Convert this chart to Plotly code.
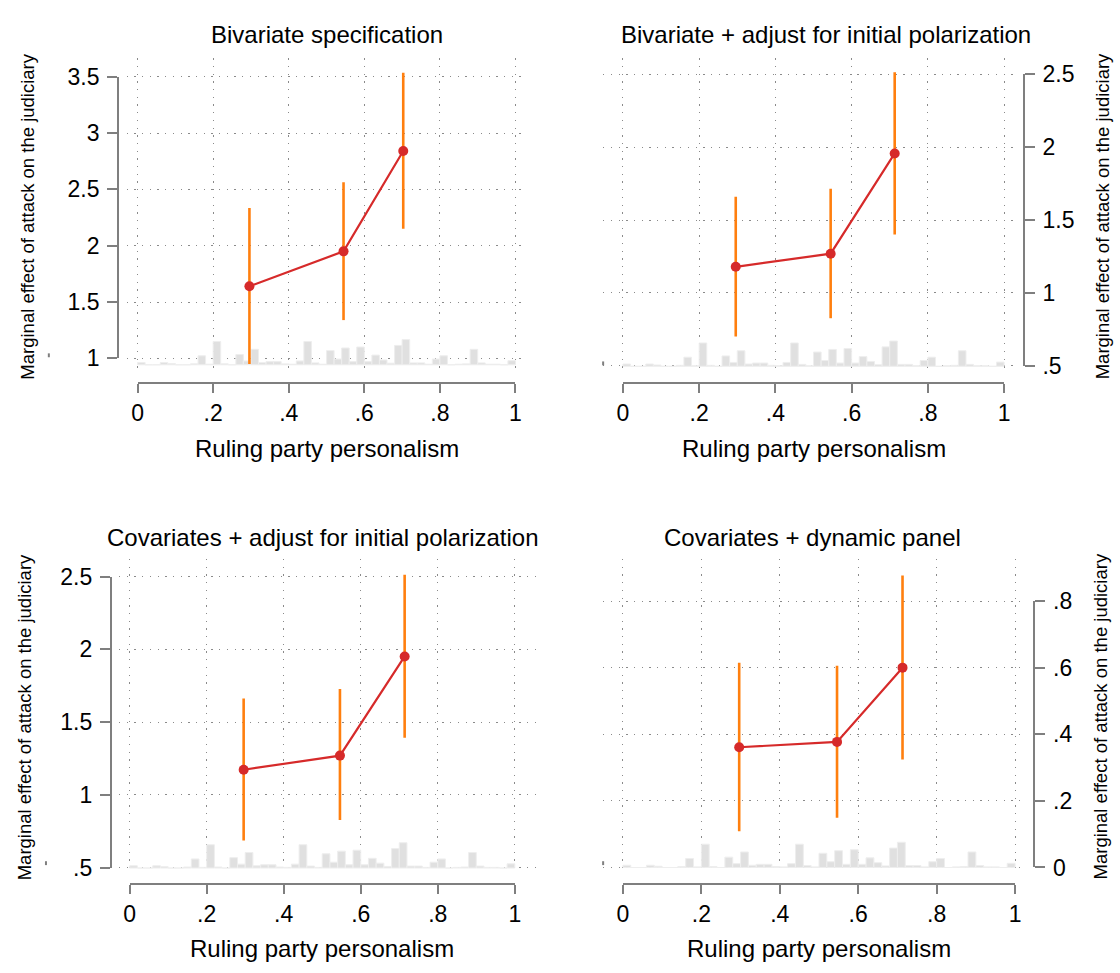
import plotly.graph_objects as go

W, H = 1120, 973
FONT = "Arial, 'Liberation Sans', sans-serif"

# ---------------- data ----------------
titles = ["Bivariate specification",
          "Bivariate + adjust for initial polarization",
          "Covariates + adjust for initial polarization",
          "Covariates + dynamic panel"]
x_title = "Ruling party personalism"
y_title = "Marginal effect of attack on the judiciary"

p1_x = [0.296, 0.545, 0.703]
p1_est = [1.64, 1.95, 2.84]
p1_lo = [0.95, 1.34, 2.15]
p1_hi = [2.335, 2.563, 3.535]

p2_x = [0.296, 0.545, 0.713]
p2_est = [1.179, 1.269, 1.957]
p2_lo = [0.700, 0.826, 1.400]
p2_hi = [1.659, 1.714, 2.514]

p3_x = [0.296, 0.546, 0.714]
p3_est = [1.173, 1.270, 1.951]
p3_lo = [0.687, 0.827, 1.393]
p3_hi = [1.663, 1.727, 2.512]

p4_x = [0.2965, 0.546, 0.713]
p4_est = [0.361, 0.377, 0.600]
p4_lo = [0.109, 0.149, 0.324]
p4_hi = [0.615, 0.606, 0.877]

x_ticks = [0, 0.2, 0.4, 0.6, 0.8, 1]
x_ticktext = ["0", ".2", ".4", ".6", ".8", "1"]

y_ticks_1 = [1, 1.5, 2, 2.5, 3, 3.5]
y_ticktext_1 = ["1", "1.5", "2", "2.5", "3", "3.5"]
y_ticks_23 = [0.5, 1, 1.5, 2, 2.5]
y_ticktext_23 = [".5", "1", "1.5", "2", "2.5"]
y_ticks_4 = [0, 0.2, 0.4, 0.6, 0.8]
y_ticktext_4 = ["0", ".2", ".4", ".6", ".8"]

# histogram of personalism (percent of observations per 0.02-wide bin)
hist_bin_width = 0.02
hist_pct = [0.7, 0.0, 0.0, 0.7, 0.4, 0.0, 0.0, 0.3, 2.8, 0.2,
            7.2, 0.3, 0.0, 3.2, 1.2, 4.8, 0.7, 1.0, 1.0, 0.3,
            0.2, 1.2, 7.2, 0.6, 0.2, 4.4, 1.8, 5.2, 1.0, 5.5,
            1.0, 3.0, 1.5, 0.5, 6.0, 7.8, 0.6, 0.6, 0.2, 1.8,
            2.8, 0.0, 0.2, 0.3, 4.8, 0.6, 0.2, 0.2, 0.0, 1.3]
hist_x = [hist_bin_width * (i + 0.5) for i in range(len(hist_pct))]

series = [(p1_x, p1_est, p1_lo, p1_hi, y_ticks_1, y_ticktext_1),
          (p2_x, p2_est, p2_lo, p2_hi, y_ticks_23, y_ticktext_23),
          (p3_x, p3_est, p3_lo, p3_hi, y_ticks_23, y_ticktext_23),
          (p4_x, p4_est, p4_lo, p4_hi, y_ticks_4, y_ticktext_4)]

# ---------------- layout geometry (pixels) ----------------
TOP = dict(plot_y=(46.5, 371), xaxis_y=380, xtitle_y=447, title_y=22)
BOT = dict(plot_y=(561, 885.5), xaxis_y=894.5, xtitle_y=961, title_y=539)
panels = [
    dict(TOP, plot_x=(122, 527), x0=133, x1=515, ypix=(354.9, 65.4),
         yaxis_x=113.3, yside="left", ytitle_x=21.7, title_x=324, base=361.5,
         dash=(43.3, 351.7)),
    dict(TOP, plot_x=(603.6, 1024), x0=623.6, x1=1008.9, ypix=(362.4, 63),
         yaxis_x=1028.9, yside="right", ytitle_x=1108, title_x=829, base=363,
         dash=(603.6, 360)),
    dict(BOT, plot_x=(114.3, 535.7), x0=125, x1=514.3, ypix=(878.2, 579),
         yaxis_x=106, yside="left", ytitle_x=19.6, title_x=320, base=878.5,
         dash=(40.4, 873.5)),
    dict(BOT, plot_x=(603.6, 1031.4), x0=623.6, x1=1020, ypix=(877.9, 604.2),
         yaxis_x=1039.6, yside="right", ytitle_x=1106.4, title_x=815, base=878,
         dash=(603.6, 873.5)),
]
HIST_PX_PER_UNIT = 3.33

RED = "#d62a2a"
ORANGE = "#ff7f0e"
AXIS = "#7f7f7f"
GRID = "#8a8a8a"
TICK_FONT = 23
TITLE_FONT = 24
YTITLE_FONT = 18.5


def fx(px):
    return px / W


def fy(py):
    return 1 - py / H


def sx(n):
    return "x" if n == 1 else f"x{n}"


def sy(n):
    return "y" if n == 1 else f"y{n}"


def kx(n):
    return "xaxis" if n == 1 else f"xaxis{n}"


def ky(n):
    return "yaxis" if n == 1 else f"yaxis{n}"


fig = go.Figure()
layout = dict(width=W, height=H, margin=dict(l=0, r=0, t=0, b=0),
              paper_bgcolor="white", plot_bgcolor="rgba(0,0,0,0)", showlegend=False,
              font=dict(family=FONT, color="black"))
annotations = []
shapes = []

for k, (P, S) in enumerate(zip(panels, series)):
    xs, est, lo, hi, yt, ytt = S
    xm, xd = 2 * k + 1, 2 * k + 2
    yh, ye, yd = 3 * k + 1, 3 * k + 2, 3 * k + 3

    span = P["x1"] - P["x0"]
    xr = [(P["plot_x"][0] - P["x0"]) / span, (P["plot_x"][1] - P["x0"]) / span]
    (py_lo, py_hi) = P["ypix"]
    v_lo, v_hi = yt[0], yt[-1]
    upp = (v_hi - v_lo) / (py_lo - py_hi)
    yr = [v_lo - (P["plot_y"][1] - py_lo) * upp, v_hi + (py_hi - P["plot_y"][0]) * upp]
    hr = [-(P["plot_y"][1] - P["base"]) / HIST_PX_PER_UNIT,
          (P["base"] - P["plot_y"][0]) / HIST_PX_PER_UNIT]

    xdom = [fx(P["plot_x"][0]), fx(P["plot_x"][1])]
    ydom = [fy(P["plot_y"][1]), fy(P["plot_y"][0])]
    grid = dict(gridcolor=GRID, gridwidth=1.3, griddash="1.3px,6.4px")

    layout[kx(xm)] = dict(domain=xdom, range=xr, anchor=sy(yh), showline=False,
                          showticklabels=False, ticks="", zeroline=False,
                          showgrid=True, tickvals=x_ticks, **grid)
    layout[ky(yh)] = dict(domain=ydom, range=hr, anchor=sx(xm), showline=False,
                          showticklabels=False, ticks="", zeroline=False, showgrid=False)
    layout[ky(ye)] = dict(domain=ydom, range=yr, overlaying=sy(yh), anchor=sx(xm),
                          showline=False, showticklabels=False, ticks="",
                          zeroline=False, showgrid=True, tickvals=yt, **grid)
    # detached Stata-style display axes
    layout[kx(xd)] = dict(domain=[fx(P["x0"]), fx(P["x1"])], range=[0, 1],
                          anchor="free", position=fy(P["xaxis_y"]),
                          showline=True, linecolor=AXIS, linewidth=2,
                          ticks="outside", ticklen=9, tickwidth=2, tickcolor=AXIS,
                          tickvals=x_ticks, ticktext=x_ticktext,
                          tickfont=dict(size=TICK_FONT, color="black", family=FONT),
                          ticklabelstandoff=1, showgrid=False, zeroline=False)
    layout[ky(yd)] = dict(domain=[fy(py_lo), fy(py_hi)], range=[v_lo, v_hi],
                          anchor="free", position=fx(P["yaxis_x"]), side=P["yside"],
                          showline=True, linecolor=AXIS, linewidth=2,
                          ticks="outside", ticklen=10, tickwidth=2, tickcolor=AXIS,
                          tickvals=yt, ticktext=ytt,
                          tickfont=dict(size=TICK_FONT, color="black", family=FONT),
                          ticklabelstandoff=3, showgrid=False, zeroline=False)

    fig.add_trace(go.Bar(x=hist_x, y=hist_pct, width=hist_bin_width,
                         marker=dict(color="#e0e0e0", line=dict(color="#eeeeee", width=1)),
                         xaxis=sx(xm), yaxis=sy(yh), hoverinfo="skip"))
    fig.add_trace(go.Scatter(
        x=xs, y=est, mode="lines+markers",
        line=dict(color=RED, width=2.2),
        marker=dict(color=RED, size=10),
        error_y=dict(type="data", symmetric=False,
                     array=[h - e for h, e in zip(hi, est)],
                     arrayminus=[e - l for e, l in zip(est, lo)],
                     color=ORANGE, thickness=2.6, width=0),
        xaxis=sx(xm), yaxis=sy(ye)))
    fig.add_trace(go.Scatter(x=[None], y=[None], xaxis=sx(xd), yaxis=sy(yd),
                             mode="markers", hoverinfo="skip"))

    annotations.append(dict(text=titles[k], x=fx(P["title_x"]), y=fy(P["title_y"]),
                            xref="paper", yref="paper", showarrow=False,
                            xanchor="center", yanchor="middle",
                            font=dict(size=TITLE_FONT, family=FONT, color="black")))
    annotations.append(dict(text=x_title, x=fx((P["x0"] + P["x1"]) / 2), y=fy(P["xtitle_y"]),
                            xref="paper", yref="paper", showarrow=False,
                            xanchor="center", yanchor="middle",
                            font=dict(size=TITLE_FONT, family=FONT, color="black")))
    annotations.append(dict(text=y_title, x=fx(P["ytitle_x"]),
                            y=fy((P["plot_y"][0] + P["plot_y"][1]) / 2),
                            xref="paper", yref="paper", showarrow=False, textangle=-90,
                            xanchor="center", yanchor="middle",
                            font=dict(size=YTITLE_FONT, family=FONT, color="black")))
    dx, dy = P["dash"]
    shapes.append(dict(type="line", xref="paper", yref="paper",
                       x0=fx(dx), x1=fx(dx), y0=fy(dy - 2), y1=fy(dy + 2),
                       line=dict(color=AXIS, width=2)))

layout["annotations"] = annotations
layout["shapes"] = shapes
fig.update_layout(**layout)
fig.write_html("out.html")
